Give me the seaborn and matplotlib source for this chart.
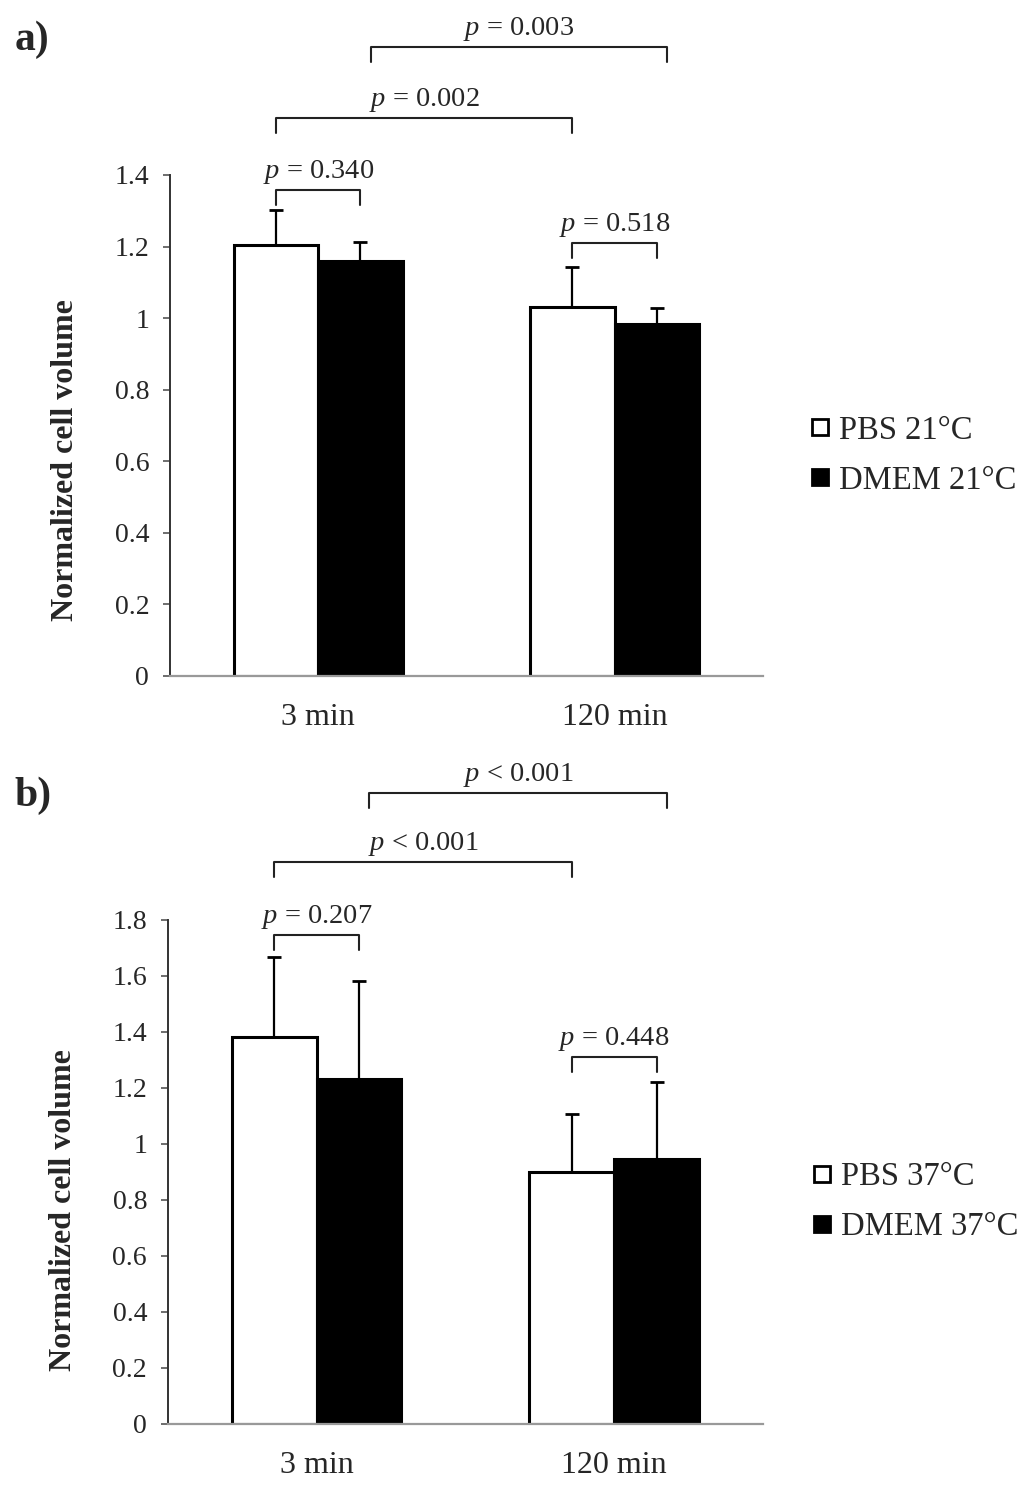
import numpy as np
import pandas as pd
import seaborn as sns
import matplotlib.pyplot as plt
from matplotlib.lines import Line2D

sns.set_style('white')
plt.rcParams['font.family'] = ['Liberation Serif', 'DejaVu Serif']
plt.rcParams['mathtext.fontset'] = 'custom'
plt.rcParams['mathtext.rm'] = 'Liberation Serif'
plt.rcParams['mathtext.it'] = 'Liberation Serif:italic'

# data
times = ['3 min', '120 min']

media_a = ['PBS 21°C', 'DMEM 21°C']
mean_pbs_a = [1.204, 1.031]
err_pbs_a = [0.098, 0.112]
mean_dmem_a = [1.159, 0.983]
err_dmem_a = [0.054, 0.046]

media_b = ['PBS 37°C', 'DMEM 37°C']
mean_pbs_b = [1.381, 0.901]
err_pbs_b = [0.286, 0.207]
mean_dmem_b = [1.231, 0.946]
err_dmem_b = [0.351, 0.274]

# p-values: [pbs vs dmem at 3 min, pbs vs dmem at 120 min, pbs 3 vs 120, dmem 3 vs 120]
pvals_a = ['= 0.340', '= 0.518', '= 0.002', '= 0.003']
pvals_b = ['= 0.207', '= 0.448', '< 0.001', '< 0.001']

# bracket heights (data units) for each comparison above
levels_a = [1.358, 1.210, 1.559, 1.757]
levels_b = [1.746, 1.311, 2.007, 2.254]


def panel(ax, media, pbs, pbs_err, dmem, dmem_err, pvals, levels, ymax, ystep, leg, lab_y):
    df = pd.DataFrame({
        'time': times * 2,
        'medium': [media[0]] * 2 + [media[1]] * 2,
        'value': pbs + dmem,
        'err': pbs_err + dmem_err,
    })
    sns.barplot(data=df, x='time', y='value', hue='medium', order=times,
                hue_order=media, palette={media[0]: 'white', media[1]: 'black'},
                width=0.57, gap=0, errorbar=None, edgecolor='black',
                linewidth=2.2, legend=False, ax=ax, zorder=3)

    centers = {}
    for medium, cont in zip(media, ax.containers):
        xs = [b.get_x() + b.get_width() / 2 for b in cont]
        centers[medium] = xs
        sub = df[df['medium'] == medium]
        ax.errorbar(xs, sub['value'], yerr=[np.zeros(len(sub)), sub['err']],
                    fmt='none', ecolor='black', elinewidth=1.6, capsize=5,
                    capthick=2, zorder=2)

    ticks = np.arange(0, ymax + 1e-9, ystep)
    ax.set_xlim(-0.5, 1.5)
    ax.set_ylim(0, ymax)
    ax.set_yticks(ticks)
    ax.set_yticklabels(['0' if v == 0 else ('1' if abs(v - 1) < 1e-9 else f'{v:.1f}')
                        for v in ticks])
    ax.tick_params(axis='y', which='both', left=True, length=5, width=1.2,
                   color='#555555', labelsize=20, pad=10)
    ax.tick_params(axis='x', bottom=False, labelsize=23, pad=16)
    ax.set_xlabel('')
    ax.set_ylabel('Normalized cell volume', fontsize=23, fontweight='bold')
    ax.yaxis.set_label_coords(-0.152, lab_y)
    sns.despine(ax=ax)
    ax.spines['left'].set_color('#333333')
    ax.spines['left'].set_linewidth(1.4)
    ax.spines['bottom'].set_color('#999999')
    ax.spines['bottom'].set_linewidth(1.6)
    ax.spines['bottom'].set_zorder(4)

    p, d = centers[media[0]], centers[media[1]]
    pairs = [(p[0], d[0]), (p[1], d[1]), (p[0], p[1]), (d[0] + 0.034, d[1] + 0.034)]
    leg_len = ymax * 0.03
    for (x0, x1), y, txt in zip(pairs, levels, pvals):
        ax.plot([x0, x0, x1, x1], [y - leg_len, y, y, y - leg_len], color='#222222',
                lw=1.5, clip_on=False, zorder=5)
        ax.text((x0 + x1) / 2, y + ymax * 0.008, '$p$ ' + txt, ha='center',
                va='bottom', fontsize=20.5, clip_on=False)

    handles = [Line2D([], [], marker='s', ls='none', markersize=12,
                      markerfacecolor=c, markeredgecolor='black', markeredgewidth=2)
               for c in ['white', 'black']]
    ax.legend(handles, media, loc='center left', bbox_to_anchor=leg, frameon=False,
              fontsize=23.5, handletextpad=0.2, handlelength=0.8, labelspacing=0.6,
              borderaxespad=0)


fig = plt.figure(figsize=(10.24, 14.85), dpi=100)
ax_a = fig.add_axes([0.166, 0.5448, 0.579, 0.3374])
ax_b = fig.add_axes([0.164, 0.0411, 0.581, 0.3394])

panel(ax_a, media_a, mean_pbs_a, err_pbs_a, mean_dmem_a, err_dmem_a,
      pvals_a, levels_a, 1.4, 0.2, (1.052, 0.44), 0.43)
panel(ax_b, media_b, mean_pbs_b, err_pbs_b, mean_dmem_b, err_dmem_b,
      pvals_b, levels_b, 1.8, 0.2, (1.055, 0.44), 0.425)

fig.text(0.014, 0.973, 'a)', fontsize=30, fontweight='bold', va='center')
fig.text(0.014, 0.464, 'b)', fontsize=30, fontweight='bold', va='center')

fig.savefig('out.png', dpi=100, facecolor='white')
